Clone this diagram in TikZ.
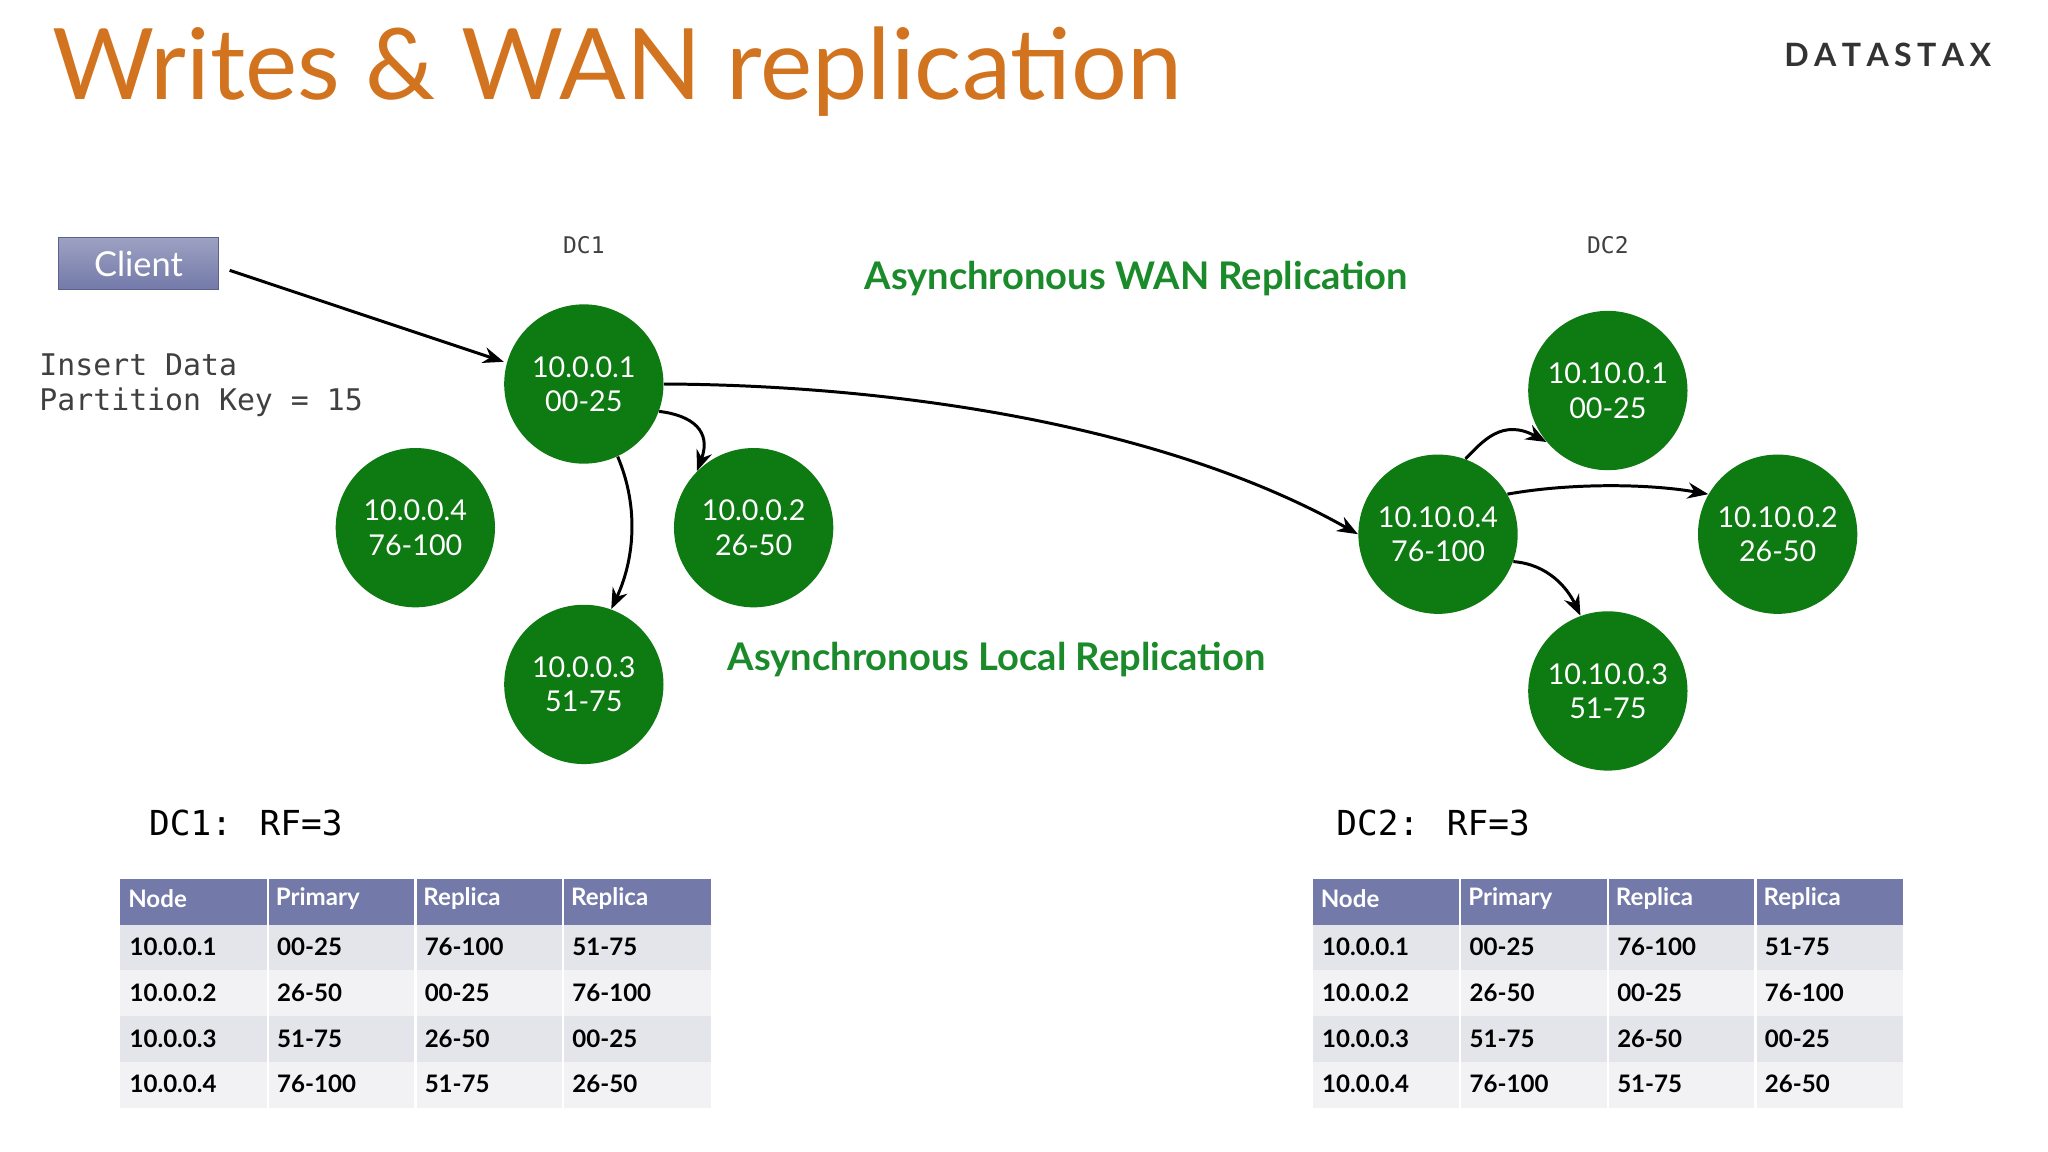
\documentclass[tikz,border=0pt]{standalone}
\usepackage{fontspec}
\setmainfont{Lato}
\newfontfamily\monof{DejaVu Sans Mono}
\usetikzlibrary{arrows.meta}
\definecolor{ttl}{HTML}{D2741F}
\definecolor{ngreen}{HTML}{0E7A12}
\definecolor{tgreen}{HTML}{1A8A2A}
\definecolor{hdr}{HTML}{7379A9}
\definecolor{rowa}{HTML}{E4E5EA}
\definecolor{rowb}{HTML}{F2F2F4}
\begin{document}
\begin{tikzpicture}[x=0.02cm,y=-0.02cm,
  srv/.style={circle,fill=ngreen,minimum size=2.44cm,inner sep=0pt,text=white,font=\fontsize{12.5}{15}\selectfont,align=center},
  arr/.style={-{Stealth[length=9pt,width=7pt]},line width=1.3pt},
  mono/.style={font=\monof\fontsize{#1}{#1}\selectfont,text=black!75},
  grn/.style={text=tgreen,font=\bfseries\fontsize{16.6}{19}\selectfont},
  hcell/.style={anchor=west,text=white,font=\bfseries\fontsize{10.5}{12}\selectfont},
  cell/.style={anchor=west,text=black,font=\bfseries\fontsize{10.5}{12}\selectfont}]
\useasboundingbox (0,0) rectangle (1568,882);
\fill[white] (0,0) rectangle (1568,882);
\node[anchor=base west,text=ttl,font=\fontsize{43}{48}\selectfont,inner sep=0pt] (title) at (40,76) {Writes \& WAN replication};
\node[anchor=west,font=\bfseries\fontsize{14}{15}\selectfont,text=black!80] (logo) at (1360,42) {D\,A\,T\,A\,S\,T\,A\,X};
\node[top color=hdr!70!white,bottom color=hdr,draw=hdr!80!black,minimum width=2.46cm,minimum height=0.8cm,text=white,font=\fontsize{15}{16}\selectfont] (client) at (106,202) {Client};
\node[mono=13,anchor=west,align=left,font=\monof\fontsize{13}{15.5}\selectfont] (ins) at (24,295) {Insert Data\\Partition Key = 15};
\node[mono=10] (dc1) at (447,188) {DC1};
\node[mono=10] (dc2) at (1231,188) {DC2};
\node[grn] (wan) at (870,213) {Asynchronous WAN Replication};
\node[grn] (loc) at (763,505) {Asynchronous Local Replication};
\node[srv] (n1) at (447,294) {10.0.0.1\\00-25};
\node[srv] (n4) at (318,404) {10.0.0.4\\76-100};
\node[srv] (n2) at (577,404) {10.0.0.2\\26-50};
\node[srv] (n3) at (447,524) {10.0.0.3\\51-75};
\node[srv] (m1) at (1231,299) {10.10.0.1\\00-25};
\node[srv] (m4) at (1101,409) {10.10.0.4\\76-100};
\node[srv] (m2) at (1361,409) {10.10.0.2\\26-50};
\node[srv] (m3) at (1231,529) {10.10.0.3\\51-75};
\draw[arr] (client.east)++(8,5) coordinate (c0) -- (n1.west|-0,277);
\draw[arr] (n1.east) .. controls (700,295) and (900,330) .. (m4.west);
\draw[arr] (n1.-20) .. controls (530,318) and (545,330) .. (n2.north west);
\draw[arr] (n1.-65) .. controls (490,390) and (485,430) .. (n3.70);
\draw[arr] (m4.70) .. controls (1135,338) and (1150,320) .. (m1.-140);
\draw[arr] (m4.30) .. controls (1200,370) and (1260,370) .. (m2.150);
\draw[arr] (m4.-20) .. controls (1185,432) and (1200,450) .. (m3.110);
\node[mono=15,anchor=west,text=black] (rf1) at (108,630) {DC1: RF=3};
\node[mono=15,anchor=west,text=black] (rf2) at (1017,630) {DC2: RF=3};
\foreach \ox/\nm in {92/a,1005/b}{
  \fill[hdr] (\ox,673) rectangle ++(452,35);
  \foreach \r/\c in {0/rowa,1/rowb,2/rowa,3/rowb}
    \fill[\c] (\ox,708+35*\r) rectangle ++(452,35);
  \foreach \k in {1,2,3}
    \draw[white,line width=1pt] (\ox+113*\k,673) -- (\ox+113*\k,848);
  \foreach \t [count=\k from 0] in {Node,Primary,Replica,Replica}
    \node[hcell] (h\nm\k) at (\ox+113*\k,688) {\t};
  \foreach \a/\b/\c/\d [count=\r from 0] in {10.0.0.1/00-25/76-100/51-75,10.0.0.2/26-50/00-25/76-100,10.0.0.3/51-75/26-50/00-25,10.0.0.4/76-100/51-75/26-50}{
    \node[cell] (t\nm\r a) at (\ox+1,725+35*\r) {\a};
    \node[cell] (t\nm\r b) at (\ox+114,725+35*\r) {\b};
    \node[cell] (t\nm\r c) at (\ox+227,725+35*\r) {\c};
    \node[cell] (t\nm\r d) at (\ox+340,725+35*\r) {\d};
  }
}
\end{tikzpicture}
\end{document}
